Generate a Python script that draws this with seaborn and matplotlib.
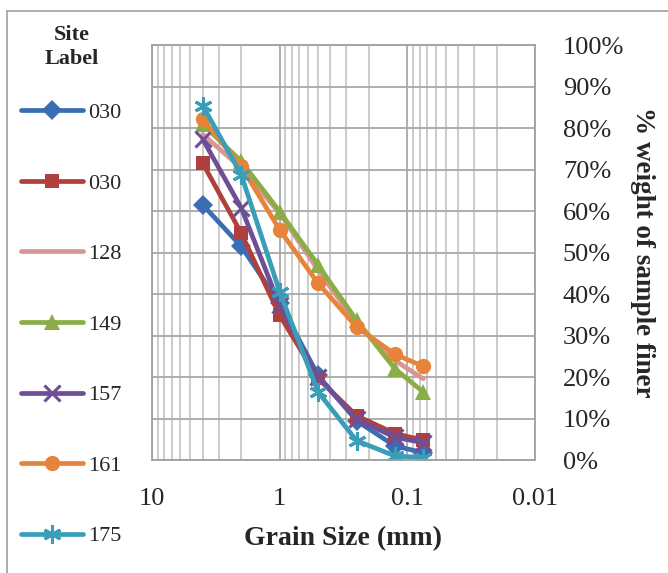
import matplotlib
matplotlib.use("Agg")
import matplotlib.pyplot as plt
import matplotlib.ticker as mticker
from matplotlib.lines import Line2D
import seaborn as sns
import pandas as pd

# sieve sizes (mm)
grain_size = [4, 2, 1, 0.5, 0.25, 0.125, 0.075]

site_labels = ["030", "030", "128", "149", "157", "161", "175"]

site_030a = [61.5, 51.5, 37.8, 20.4, 9.5, 3.4, 1.8]
site_030b = [71.5, 54.7, 34.9, 19.7, 10.7, 6.4, 4.8]
site_128 = [78.5, 70.4, 59.5, 45.8, 32.9, 24.0, 19.6]
site_149 = [80.9, 72.0, 59.9, 47.0, 33.7, 22.0, 16.4]
site_157 = [77.3, 60.8, 37.3, 20.0, 9.9, 5.5, 4.2]
site_161 = [82.1, 70.8, 55.5, 42.6, 32.1, 25.5, 22.6]
site_175 = [85.4, 68.8, 40.6, 16.4, 4.7, 1.0, 0.6]

series = [site_030a, site_030b, site_128, site_149, site_157, site_161, site_175]
colors = ["#3A6DB2", "#B0403E", "#D99694", "#8AAD47", "#6E4F96", "#E8843A", "#3A9EB8"]
markers = ["D", "s", None, "^", "x", "o", (6, 2, 0)]
msizes = [10, 10, 0, 11, 11, 11, 13]

sns.set_style("white")
plt.rcParams["font.family"] = ["Liberation Serif", "DejaVu Serif"]

fig = plt.figure(figsize=(6.68, 5.73), dpi=100)
ax = fig.add_axes([0.2275, 0.197, 0.5734, 0.7243])

for i, vals in enumerate(series):
    df = pd.DataFrame({"size": grain_size, "pct": vals})
    sns.lineplot(
        data=df, x="size", y="pct", ax=ax,
        color=colors[i], linewidth=3.4,
        marker=markers[i], markersize=msizes[i],
        markeredgewidth=2.2 if markers[i] in ("x", (6, 2, 0)) else 0,
        markeredgecolor=colors[i],
        label=site_labels[i], legend=False,
    )

ax.set_xscale("log")
ax.set_xlim(10, 0.01)
ax.set_ylim(0, 100)

ax.xaxis.set_major_locator(mticker.FixedLocator([10, 1, 0.1, 0.01]))
ax.xaxis.set_major_formatter(mticker.FixedFormatter(["10", "1", "0.1", "0.01"]))
ax.xaxis.set_minor_locator(mticker.LogLocator(base=10, subs=range(2, 10)))
ax.xaxis.set_minor_formatter(mticker.NullFormatter())

ax.yaxis.set_major_locator(mticker.MultipleLocator(10))
ax.yaxis.set_major_formatter(mticker.FuncFormatter(lambda v, p: f"{int(v)}%"))
ax.yaxis.tick_right()
ax.yaxis.set_label_position("right")

ax.grid(which="major", axis="both", color="#A8A8A8", linewidth=1.3)
ax.grid(which="minor", axis="x", color="#BDBDBD", linewidth=1.1)
ax.set_axisbelow(True)
for s in ax.spines.values():
    s.set_color("#A0A0A0")
    s.set_linewidth(1.3)

ax.tick_params(axis="x", which="both", length=0, pad=20, labelsize=19)
ax.tick_params(axis="y", which="both", length=0, pad=20, labelsize=19)

ax.set_xlabel("Grain Size (mm)", fontsize=20, fontweight="bold", labelpad=12)
ax.set_ylabel("% weight of sample finer", fontsize=19.5, fontweight="bold",
              rotation=-90, labelpad=22)

# legend title drawn separately so it sits like the original
fig.text(72 / 668, 1 - 47 / 573, "Site\nLabel", ha="center", va="center",
         fontsize=16, fontweight="bold", linespacing=1.25)

handles, labels = ax.get_legend_handles_labels()
leg = fig.legend(
    handles, labels,
    loc="upper left", bbox_to_anchor=(0.0075, 1 - 87 / 573),
    frameon=False, fontsize=16, handlelength=2.8, handletextpad=0.25,
    labelspacing=2.25, borderpad=0.2,
)

# outer frame of the chart area
fig.add_artist(Line2D([0.0105, 0.0105], [0.0, 0.981], transform=fig.transFigure,
                      color="#A0A0A0", linewidth=1.2))
fig.add_artist(Line2D([0.0105, 1.0], [0.981, 0.981], transform=fig.transFigure,
                      color="#A0A0A0", linewidth=1.2))

fig.savefig("out.png", dpi=100)
